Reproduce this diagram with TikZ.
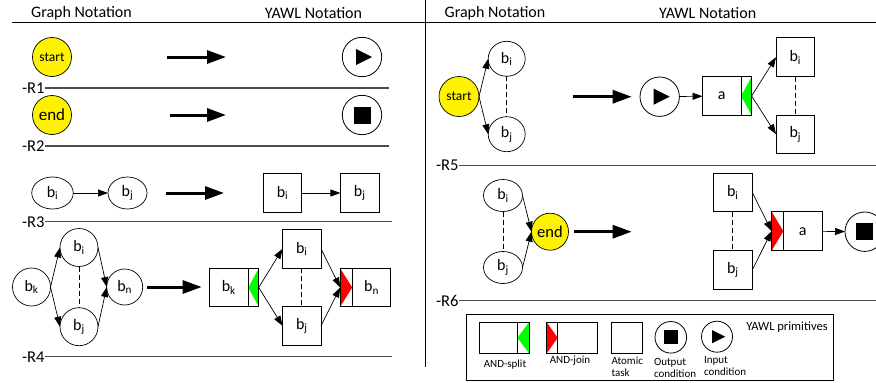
\documentclass[tikz,border=0pt]{standalone}
\usepackage{fontspec}
\setmainfont{Carlito}
\usetikzlibrary{arrows.meta,shapes.geometric,calc}
\newcommand\yinmark[2]{\fill ($(#1)+(-6*#2,-8*#2)$) -- ($(#1)+(-6*#2,8*#2)$) -- ($(#1)+(10*#2,0)$) -- cycle;}
\newcommand\youtmark[2]{\fill ($(#1)+(-8.5*#2,-8.5*#2)$) rectangle ($(#1)+(8.5*#2,8.5*#2)$);}
\newcommand\splitfill[1]{\fill[green] (#1.north east) -- (#1.west) -- (#1.south east) -- cycle;
  \draw[line width=0.8pt] (#1.north west) rectangle (#1.south east);}
\newcommand\joinfill[1]{\fill[red] (#1.north west) -- (#1.east) -- (#1.south west) -- cycle;
  \draw[line width=0.8pt] (#1.north west) rectangle (#1.south east);}
\begin{document}
\begin{tikzpicture}[x=1pt,y=-1pt,
  every node/.style={inner sep=0pt, outer sep=0pt},
  lbl/.style={font=\fontsize{16}{16}\selectfont},
  gcirc/.style={circle, draw, line width=0.7pt, minimum size=38pt, font=\fontsize{16}{16}\selectfont},
  gell/.style={ellipse, draw, line width=0.7pt, minimum width=40pt, minimum height=32pt, font=\fontsize{16}{16}\selectfont},
  yel/.style={circle, draw, line width=0.7pt, fill=yellow, minimum size=39pt},
  task/.style={rectangle, draw, line width=0.8pt, minimum width=38.5pt, minimum height=38.5pt, font=\fontsize{16}{16}\selectfont},
  comp/.style={rectangle, minimum width=10.5pt, minimum height=38.5pt},
  cond/.style={circle, draw, line width=0.8pt, minimum size=39.4pt},
  flow/.style={-{Triangle[length=10pt,width=7pt]}, line width=0.7pt},
  big/.style={-{Triangle[length=19pt,width=13pt]}, line width=3pt},
  sep/.style={draw=black!70, line width=1.2pt},
  dsh/.style={line width=0.7pt, dash pattern=on 5pt off 3pt},
  rlab/.style={anchor=east, font=\fontsize{16.5}{16.5}\selectfont, inner sep=0.5pt},
  small/.style={font=\fontsize{11}{12.5}\selectfont, align=left}
]
\useasboundingbox (0,0) rectangle (876,383);
\clip (0,0) rectangle (876,383);

% headers
\node[lbl] (h1) at (81.5,13) {Graph Notation};
\node[lbl] (h2) at (313.5,13) {YAWL Notation};
\node[lbl] (h3) at (495,13) {Graph Notation};
\node[lbl] (h4) at (707.7,13) {YAWL Notation};
\draw[line width=0.9pt] (12,22) -- (876,22);
\draw[line width=0.9pt] (425.7,0) -- (425.7,367);

% separators
\node[rlab] (r1) at (45,88) {-R1};  \draw[sep] (r1.east) -- (389,88);
\node[rlab] (r2) at (45,146) {-R2}; \draw[sep] (r2.east) -- (389,146);
\node[rlab] (r3) at (45,221.7) {-R3}; \draw[sep] (r3.east) -- (392,221.7);
\node[rlab] (r4) at (45,356.7) {-R4}; \draw[sep] (r4.east) -- (392,356.7);
\node[rlab] (r5) at (459,165.7) {-R5}; \draw[sep] (r5.east) -- (876,165.7);
\node[rlab] (r6) at (459,300.7) {-R6}; \draw[sep] (r6.east) -- (876,300.7);

% R1
\node[yel, font=\fontsize{13.5}{13.5}\selectfont] (s1) at (52,57) {start};
\coordinate (a1s) at (167,57); \coordinate (a1e) at (226,57);
\draw[big] (a1s) -- (a1e);
\node[cond] (ic1) at (362,57) {}; \yinmark{ic1}{1}

% R2
\node[yel, font=\fontsize{17}{17}\selectfont] (e2) at (52,115) {end};
\coordinate (a2s) at (170,115); \coordinate (a2e) at (226,115);
\draw[big] (a2s) -- (a2e);
\node[cond] (oc2) at (362,115) {}; \youtmark{oc2}{1}

% R3
\node[gell, minimum width=41.5pt] (g3i) at (52.5,193) {b\textsubscript{i}};
\node[gell, minimum width=39pt] (g3j) at (127.5,193) {b\textsubscript{j}};
\draw[flow] (g3i) -- (g3j);
\coordinate (a3s) at (165.5,193); \coordinate (a3e) at (224,193);
\draw[big] (a3s) -- (a3e);
\node[task] (t3i) at (282.5,193) {b\textsubscript{i}};
\node[task] (t3j) at (359.7,193) {b\textsubscript{j}};
\draw[flow] (t3i) -- (t3j);

% R4 graph
\node[gcirc] (g4k) at (31.5,287) {b\textsubscript{k}};
\node[gcirc] (g4i) at (79,247.5) {b\textsubscript{i}};
\node[gcirc] (g4j) at (79,326.7) {b\textsubscript{j}};
\node[gcirc, minimum size=36pt] (g4n) at (124.7,287) {b\textsubscript{n}};
\draw[dsh] (g4i.south) -- (g4j.north);
\draw[flow] (g4k.east) -- (g4i.west);
\draw[flow] (g4k.east) -- (g4j.west);
\draw[flow] (g4i.east) -- (g4n.west);
\draw[flow] (g4j.east) -- (g4n.west);
\coordinate (a4s) at (146.7,287); \coordinate (a4e) at (201.7,287);
\draw[big] (a4s) -- (a4e);

% R4 YAWL
\node[task, minimum width=39pt] (t4k) at (228.8,287.5) {b\textsubscript{k}};
\node[comp] (t4ks) at (253.5,287.5) {}; \splitfill{t4ks}
\node[task] (t4i) at (301.8,248.8) {b\textsubscript{i}};
\node[task] (t4j) at (301.8,325.8) {b\textsubscript{j}};
\node[comp, minimum width=12pt] (t4nj) at (346.2,287.5) {}; \joinfill{t4nj}
\node[task] (t4n) at (371.5,287.5) {b\textsubscript{n}};
\draw[dsh] (t4i.south) -- (t4j.north);
\draw[flow] (t4ks.east) -- (t4i.west);
\draw[flow] (t4ks.east) -- (t4j.west);
\draw[flow] (t4i.east) -- (t4nj.west);
\draw[flow] (t4j.east) -- (t4nj.west);

% R5 graph
\node[yel, minimum size=40pt, font=\fontsize{13.5}{13.5}\selectfont] (s5) at (459,96.5) {start};
\node[gell, minimum width=37pt, minimum height=35pt] (g5i) at (506.7,58.8) {b\textsubscript{i}};
\node[gell, minimum width=37pt, minimum height=35pt] (g5j) at (506.7,134.2) {b\textsubscript{j}};
\draw[dsh] (g5i.south) -- (g5j.north);
\draw[flow] (s5.east) -- (g5i.west);
\draw[flow] (s5.east) -- (g5j.west);
\coordinate (a5s) at (573.3,96.7); \coordinate (a5e) at (631.7,96.7);
\draw[big] (a5s) -- (a5e);

% R5 YAWL
\node[cond] (ic5) at (659.7,96.7) {}; \yinmark{ic5}{1}
\node[task] (t5a) at (721.8,96) {a};
\node[comp, minimum width=10.7pt] (t5as) at (746.3,96) {}; \splitfill{t5as}
\node[task, minimum height=39pt] (t5i) at (795.3,57.2) {b\textsubscript{i}};
\node[task] (t5j) at (795.3,134.2) {b\textsubscript{j}};
\draw[dsh] (t5i.south) -- (t5j.north);
\draw[flow] (ic5) -- (t5a);
\draw[flow] (t5as.east) -- (t5i.west);
\draw[flow] (t5as.east) -- (t5j.west);

% R6 graph
\node[gell, minimum width=39pt, minimum height=32pt] (g6i) at (503,195.5) {b\textsubscript{i}};
\node[gell, minimum width=39pt, minimum height=32pt] (g6j) at (503,267.5) {b\textsubscript{j}};
\node[yel, minimum size=37pt, font=\fontsize{16.5}{16.5}\selectfont] (e6) at (550,231.7) {end};
\draw[dsh] (g6i.south) -- (g6j.north);
\draw[flow] (g6i.east) -- (e6.west);
\draw[flow] (g6j.east) -- (e6.west);
\coordinate (a6s) at (574,231.7); \coordinate (a6e) at (631.7,231.7);
\draw[big] (a6s) -- (a6e);

% R6 YAWL
\node[task, minimum width=39pt] (t6i) at (732.8,192.5) {b\textsubscript{i}};
\node[task, minimum width=39pt] (t6j) at (732.8,270) {b\textsubscript{j}};
\node[comp, minimum width=11.6pt, minimum height=39pt] (t6aj) at (777.5,231.2) {}; \joinfill{t6aj}
\node[task, minimum width=39pt, minimum height=39pt] (t6a) at (802.8,231.2) {a};
\node[cond] (oc6) at (864.7,231.7) {}; \youtmark{oc6}{1}
\draw[dsh] (t6i.south) -- (t6j.north);
\draw[flow] (t6i.east) -- (t6aj.west);
\draw[flow] (t6j.east) -- (t6aj.west);
\draw[flow] (t6a) -- (oc6);

% legend
\draw[line width=0.8pt] (466,314.3) rectangle (833.3,380);
\node[task, minimum width=38.3pt, minimum height=31pt] (lsplit) at (498.2,337.8) {};
\node[comp, minimum width=11.7pt, minimum height=31pt] (lsplitc) at (523.2,337.8) {}; \splitfill{lsplitc}
\node[comp, minimum width=11pt, minimum height=31pt] (ljoinc) at (552.2,337.8) {}; \joinfill{ljoinc}
\node[task, minimum width=39.6pt, minimum height=31pt] (ljoin) at (577.5,337.8) {};
\node[task, minimum width=31.3pt, minimum height=31pt] (latomic) at (626.7,337.8) {};
\node[cond, minimum size=31.6pt] (lout) at (670.8,337.3) {}; \youtmark{lout}{0.82}
\node[cond, minimum size=31pt] (lin) at (717,336.7) {}; \yinmark{lin}{0.82}
\node[small] (lsplitt) at (505,364.3) {AND-split};
\node[small] (ljoint) at (570,361) {AND-join};
\node[small, anchor=west] (latomict) at (611.5,367) {Atomic\\task};
\node[small, anchor=west] (loutt) at (654,368) {Output\\condition};
\node[small, anchor=west] (lint) at (704,366) {Input\\condition};
\node[font=\fontsize{12.5}{12.5}\selectfont] (lprim) at (787,327.3) {YAWL primitives};
\end{tikzpicture}
\end{document}
